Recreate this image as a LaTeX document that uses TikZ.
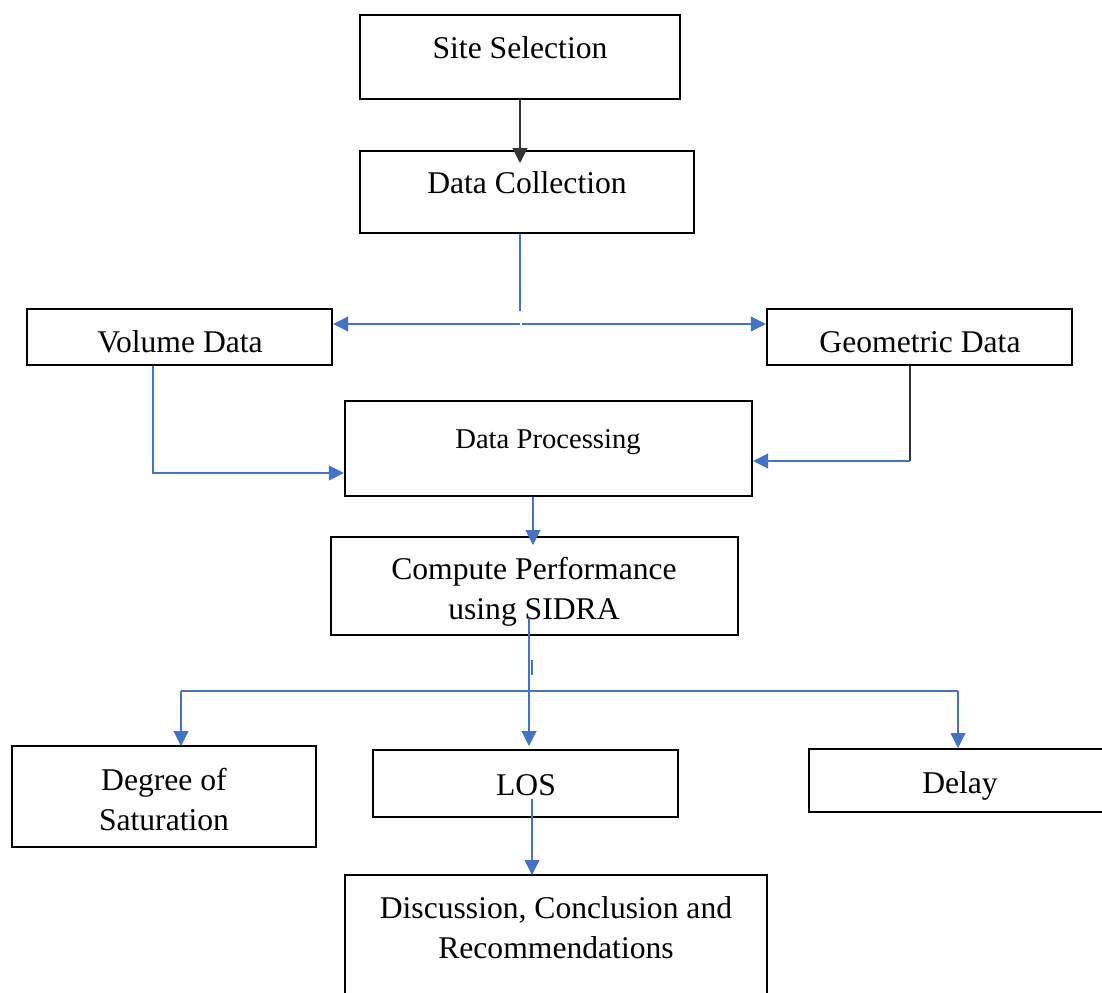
\documentclass[tikz,border=0pt]{standalone}
\usepackage{fontspec}
\setmainfont{Liberation Serif}
\usetikzlibrary{arrows.meta}
\definecolor{lineblue}{HTML}{4472C4}
\definecolor{darkline}{HTML}{333333}
\tikzset{
  boxshape/.style={draw=black, line width=1.4pt, rectangle, inner sep=0pt},
  lbl/.style={anchor=base, inner sep=0pt, align=center, font=\fontsize{18}{22.5}\selectfont},
  lblsmall/.style={anchor=base, inner sep=0pt, align=center, font=\fontsize{16.3}{20}\selectfont},
  blueline/.style={draw=lineblue, line width=0.6pt},
  blackline/.style={draw=darkline, line width=0.7pt},
  tipb/.style={-{Triangle[length=0.3cm,width=0.3cm]}},
}
\newcommand{\mybox}[5]{% name, x1, y1, x2, y2
  \node[boxshape, minimum width={(#4-#2)*0.02cm}, minimum height={(#5-#3)*0.02cm}] (#1) at ({(#2+#4)/2},{(#3+#5)/2}) {};}
\begin{document}
\begin{tikzpicture}[x=0.02cm, y=-0.02cm]
\useasboundingbox (0,0) rectangle (1102,993);
% boxes
\mybox{ss}{360}{15}{680}{99}
\mybox{dc}{360}{151}{694}{233}
\mybox{vd}{27}{309}{332}{365}
\mybox{gd}{767}{309}{1072}{365}
\mybox{dp}{345}{401}{752}{496}
\mybox{cp}{331}{537}{738}{635}
\mybox{ds}{12}{746}{316}{847}
\mybox{los}{373}{750}{678}{817}
\mybox{dl}{809}{749}{1130}{812}
\mybox{dcr}{345}{875}{767}{1030}
% labels
\node[lbl] (sst) at (520,59) {Site Selection};
\node[lbl] (dct) at (527,194) {Data Collection};
\node[lbl] (vdt) at (180,352) {Volume Data};
\node[lbl] (gdt) at (920,352) {Geometric Data};
\node[lblsmall] (dpt) at (548,448) {Data Processing};
\node[lbl] (cpt) at (534,619) {Compute Performance\\using SIDRA};
\node[lbl] (dst) at (164,830) {Degree of\\Saturation};
\node[lbl] (lost) at (526,795) {LOS};
\node[lbl] (dlt) at (960,793) {Delay};
\node[lbl] (dcrt) at (556,958) {Discussion, Conclusion and\\Recommendations};
% coordinates
\coordinate (a1) at (520,163);
\coordinate (b1) at (520,311);
\coordinate (b2) at (520,324);
\coordinate (b3) at (522,324);
\coordinate (c1) at (153,473);
\coordinate (d1) at (910,461);
\coordinate (e1) at (533,545);
\coordinate (f0) at (529,618);
\coordinate (f1) at (529,691);
\coordinate (f2) at (181,691);
\coordinate (f3) at (958,691);
\coordinate (f4) at (181,746);
\coordinate (f5) at (529,746);
\coordinate (f6) at (958,748);
\coordinate (t1) at (532,660);
\coordinate (t2) at (532,675);
\coordinate (g0) at (532,799);
\coordinate (g1) at (532,875);
% connectors
\draw[blackline, tipb] (ss.south -| a1) -- (a1);
\draw[blueline] (dc.south -| b1) -- (b1);
\draw[blueline, tipb] (b2) -- (vd.east |- b2);
\draw[blueline, tipb] (b3) -- (gd.west |- b3);
\draw[blueline, tipb] (vd.south -| c1) -- (c1) -- (dp.west |- c1);
\draw[blackline] (gd.south -| d1) -- (d1);
\draw[blueline, tipb] (d1) -- (dp.east |- d1);
\draw[blueline, tipb] (dp.south -| e1) -- (e1);
\draw[blueline] (f0) -- (f1);
\draw[blueline] (t1) -- (t2);
\draw[blueline] (f2) -- (f3);
\draw[blueline, tipb] (f2) -- (f4);
\draw[blueline, tipb] (f1) -- (f5);
\draw[blueline, tipb] (f3) -- (f6);
\draw[blueline, tipb] (g0) -- (g1);
\end{tikzpicture}
\end{document}
